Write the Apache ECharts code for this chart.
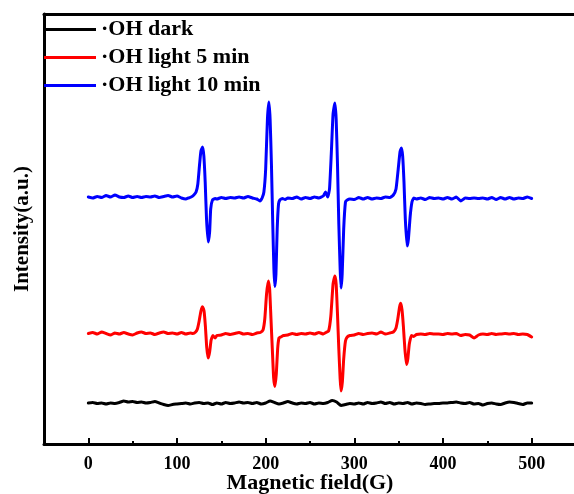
<!DOCTYPE html>
<html>
<head>
<meta charset="utf-8">
<script src="https://cdn.jsdelivr.net/npm/echarts@6/dist/echarts.min.js"></script>
<style>html,body{margin:0;padding:0;background:#fff;}#c{width:574px;height:494px;}</style>
</head>
<body>
<div id="c"></div>
<script>
// Series names (legend)
const seriesNames = ['·OH dark', '·OH light 5 min', '·OH light 10 min'];
const seriesColors = ['#000000', '#ff0000', '#0000ff'];

// x tick labels
const majorTicks = [0, 100, 200, 300, 400, 500];
const minorTicks = [50, 150, 250, 350, 450];

// [Magnetic field (G), intensity (a.u.)]
const darkData = [
[0,41],[5,41.5],[10,40.5],[15,41],[20,40],[25,41],[30,40.5],[35,41.5],[40,43],[45,42],[50,42.5],[55,41.5],[60,42],[65,41],[70,41.5],[75,42.5],[80,41],[85,39.5],[90,38.5],[95,39.5],[100,40],[105,40.5],[110,41],[115,40],[120,41],[125,41.5],[130,40.5],[135,41],[140,39.5],[145,41],[150,40],[155,41.5],[160,40.5],[165,41],[170,42],[175,41],[180,41.5],[185,40.5],[190,41.5],[195,40],[200,41],[205,43],[210,41.5],[215,40],[220,41],[225,42.5],[230,41],[235,40],[240,41],[245,40.5],[250,41.5],[255,40],[260,41],[265,40.5],[270,41.5],[275,43.5],[280,42],[285,38.5],[290,39.5],[295,40.5],[300,40],[305,41],[310,40],[315,41.5],[320,40.5],[325,41],[330,42],[335,40.5],[340,41.5],[345,40],[350,41],[355,40.5],[360,41.5],[365,40],[370,41],[375,40.5],[380,39.5],[385,40],[390,40.5],[395,40.5],[400,41],[405,41],[410,41.5],[415,42],[420,41],[425,40.5],[430,41.5],[435,40],[440,40.5],[445,39],[450,40.5],[455,41],[460,40],[465,39.5],[470,41],[475,42],[480,41.5],[485,40.5],[490,39.5],[495,41],[500,41]
];
const light5Data = [
[0,110.5],[5,111.5],[10,110],[15,112],[20,110.5],[25,109],[30,111],[35,110],[40,111.5],[45,110],[50,109],[55,111],[60,112],[65,110.5],[70,111],[75,109.5],[80,111],[85,112],[90,110.5],[95,111],[100,110],[105,111.5],[110,110],[115,111],[118,110.5],[121,112],[123,115],[125,123],[127,133],[128.8,137.3],[130.5,133],[132,118],[133.5,97],[135.2,86],[136.8,92],[138.5,104],[140.5,108.5],[143,106],[145,108.5],[150,109],[155,110.5],[160,109.5],[165,110.5],[170,111.5],[175,110],[180,110.5],[185,109.5],[190,111],[194,111.5],[197,114],[199,125],[201,150],[203,163],[204.5,155],[206,125],[207.5,95],[209,66],[210.4,57.5],[212,70],[213.5,95],[215,106],[217,107],[220,108.5],[225,109],[230,110.5],[235,109.5],[240,110.5],[245,110],[250,111],[255,110],[260,111.5],[265,110],[268,111.5],[271,113],[273.5,128],[276,160],[278,168],[279.5,160],[281,130],[282.5,95],[284,65],[285,53],[286.5,62],[288,85],[290,103],[292,107],[295,108.5],[300,109],[305,110.5],[310,109.5],[315,110.5],[320,111],[325,110],[330,112],[335,110],[340,111],[344,112],[347,116],[349,125],[351,137],[352.3,140.7],[353.8,134],[355.3,118],[357,95],[358.8,79.5],[360.3,85],[362,100],[364.5,108.5],[367,107.5],[370,109.5],[375,110],[380,109.5],[385,110.5],[390,110],[395,110],[400,109.5],[405,110.5],[410,110],[415,110.5],[420,108.5],[425,109.5],[430,109],[435,106],[440,109],[445,110],[450,109.5],[455,110.5],[460,109.5],[465,110],[470,110.5],[475,110],[480,110.5],[485,109.5],[490,110],[495,109.5],[500,107]
];
const light10Data = [
[0,247],[5,246],[10,247.5],[15,246.5],[20,248.5],[25,247],[30,249],[35,247],[40,246.5],[45,248],[50,246.5],[55,247.5],[60,246.5],[65,247.5],[70,247],[75,248],[80,246.5],[85,247.5],[90,248.5],[95,247],[100,248],[105,246],[110,245],[113,246],[116,247],[119,249],[121.5,252],[123.5,260],[125.5,280],[127,293],[128.8,297],[130.3,288],[131.8,262],[133.3,225],[135.2,202],[136.8,212],[138,235],[140,244],[143,245.5],[145,245],[150,246.5],[155,245.5],[160,246.5],[165,246],[170,247],[175,246],[180,247.5],[185,246],[190,245],[193.5,243],[196,246],[198,252],[200,275],[202,325],[203.6,342],[205,325],[206.5,280],[208,220],[209.3,175],[210.4,157.5],[211.6,170],[213,215],[214.5,240],[216,244],[219,245.5],[222,244.5],[225,246],[230,245.5],[235,247],[240,245],[245,246.5],[250,245.5],[255,247],[260,246],[265,248],[267.5,252],[270,247],[272,255],[274,290],[276,330],[278,341],[279.5,325],[281,280],[282.5,220],[284,175],[285,156],[286.3,170],[288,215],[290,242],[292,244],[295,245],[300,244.5],[305,246.5],[310,245],[315,246.5],[320,245],[325,246],[330,245.5],[335,247],[340,246.5],[344,249],[347,255],[349.5,275],[351.5,292],[353,296],[354.5,288],[356,262],[357.5,225],[359.5,198],[361,205],[363,228],[365,242],[367,246],[370,245],[375,246],[380,244.5],[385,246.5],[390,245.5],[395,246],[400,245],[405,246.5],[410,245],[415,247],[420,243],[425,246],[430,245.5],[435,246],[440,245.5],[445,246],[450,245],[455,246.5],[460,244.5],[465,246.5],[470,245],[475,246.5],[480,245],[485,246],[490,245.5],[495,247],[500,245.5]
];
const allData = [darkData, light5Data, light10Data];

const FONT = "'Liberation Serif', 'Times New Roman', serif";
const chart = echarts.init(document.getElementById('c'), null, {renderer: 'canvas'});
const hiddenAxisBase = {type: 'value', min: -50, max: 550, gridIndex: 0,
  axisLabel: {show: false}, splitLine: {show: false}};

chart.setOption({
  animation: false,
  backgroundColor: '#ffffff',
  grid: {left: 44, top: 14, width: 532, height: 430, containLabel: false, outerBoundsMode: 'none'},
  legend: {
    orient: 'vertical', left: 44, top: 18, padding: 0,
    icon: 'rect', itemWidth: 52, itemHeight: 3, itemGap: 5,
    data: seriesNames,
    textStyle: {fontFamily: FONT, fontWeight: 'bold', fontSize: 22, color: '#000', lineHeight: 23}
  },
  xAxis: [
    {
      type: 'value', min: -50, max: 550, position: 'bottom',
      name: 'Magnetic field(G)', nameLocation: 'middle', nameGap: 28, nameMoveOverlap: false,
      nameTextStyle: {fontFamily: FONT, fontWeight: 'bold', fontSize: 22, color: '#000'},
      axisLine: {show: true, onZero: false, lineStyle: {color: '#000', width: 3}},
      axisTick: {show: true, inside: true, length: 6, customValues: majorTicks, lineStyle: {color: '#000', width: 2}},
      axisLabel: {show: true, customValues: majorTicks, margin: 11, fontFamily: FONT, fontWeight: 'bold', fontSize: 18, color: '#000'},
      splitLine: {show: false}
    },
    Object.assign({}, hiddenAxisBase, {
      position: 'bottom',
      axisLine: {show: false, onZero: false},
      axisTick: {show: true, inside: true, length: 3, customValues: minorTicks, lineStyle: {color: '#000', width: 2}}
    }),
    Object.assign({}, hiddenAxisBase, {
      position: 'top',
      axisLine: {show: true, onZero: false, lineStyle: {color: '#000', width: 3}},
      axisTick: {show: false}
    })
  ],
  yAxis: {
    type: 'value', min: 0, max: 430,
    name: 'Intensity(a.u.)', nameLocation: 'middle', nameGap: 11, nameMoveOverlap: false,
    nameTextStyle: {fontFamily: FONT, fontWeight: 'bold', fontSize: 21, color: '#000'},
    axisLine: {show: true, onZero: false, lineStyle: {color: '#000', width: 3}},
    axisTick: {show: false}, axisLabel: {show: false}, splitLine: {show: false}
  },
  series: seriesNames.map((n, i) => ({
    name: n, type: 'line', xAxisIndex: 0, yAxisIndex: 0,
    data: allData[i], showSymbol: false, symbol: 'none', smooth: 0.15,
    color: seriesColors[i],
    lineStyle: {color: seriesColors[i], width: 3, join: 'round', cap: 'round'},
    z: 2 + i
  }))
});
</script>
</body>
</html>
